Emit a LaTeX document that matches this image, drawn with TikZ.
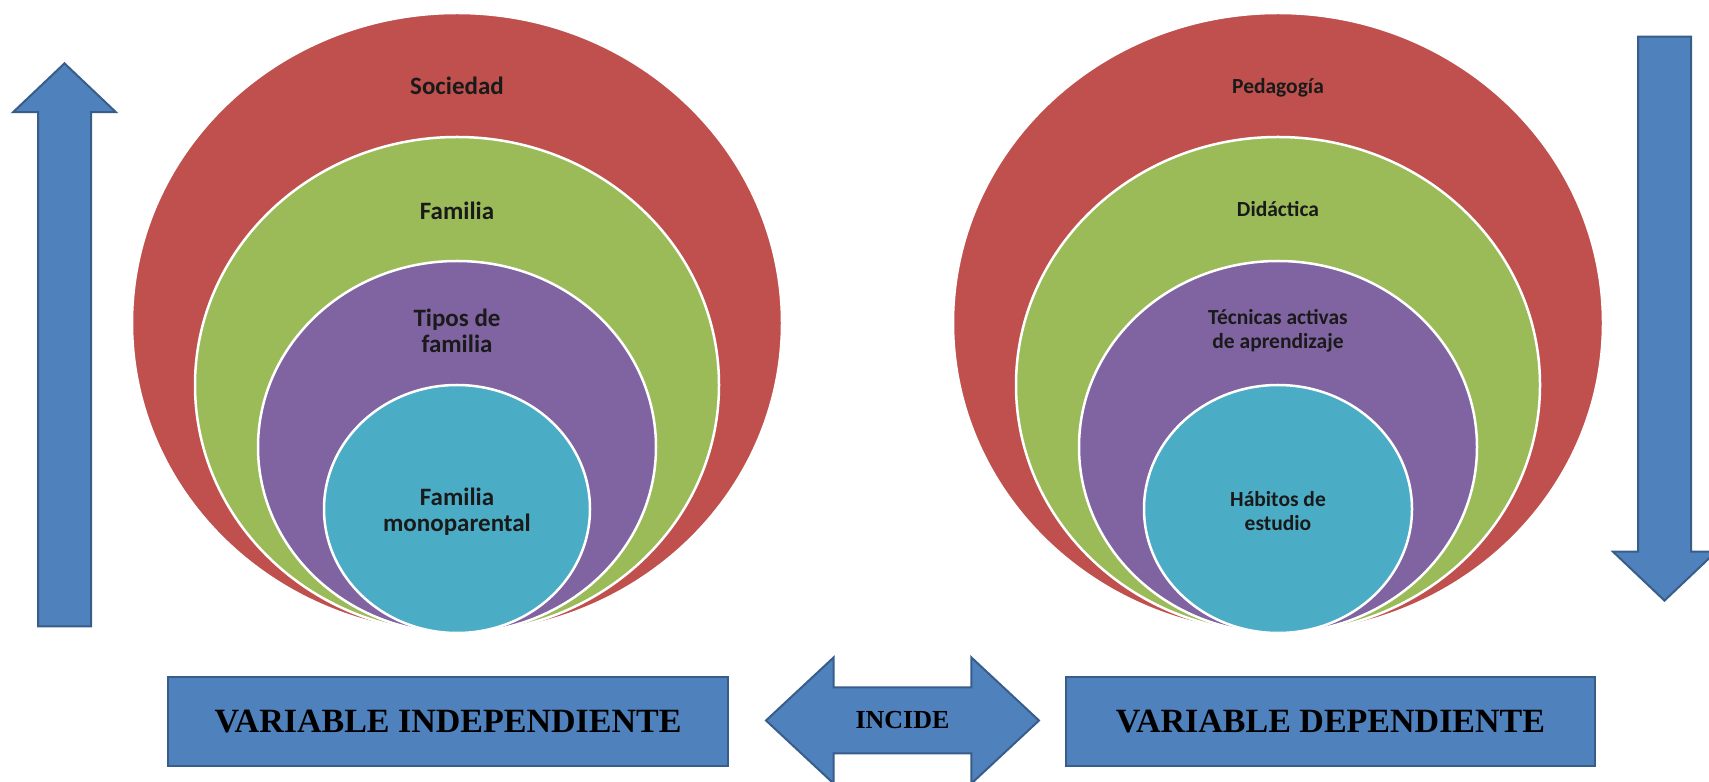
\documentclass[tikz,border=0pt]{standalone}
\usepackage{fontspec}
\setmainfont{Liberation Serif}
\newfontfamily\calibri{Carlito}
\usetikzlibrary{shapes.geometric,shapes.arrows}

\definecolor{blockblue}{HTML}{4F81BD}
\definecolor{blockedge}{HTML}{385D8A}
\definecolor{ringred}{HTML}{C0504D}
\definecolor{ringgreen}{HTML}{9BBB59}
\definecolor{ringviolet}{HTML}{8064A2}
\definecolor{ringcyan}{HTML}{4BACC6}
\definecolor{ringtext}{HTML}{1A1A1A}

\tikzset{
  ring/.style={ellipse, draw=white, line width=2.5pt, inner sep=0},
  ringlabel/.style={align=center, text=ringtext, font=\calibri\bfseries\fontsize{25}{26}\selectfont},
  varbox/.style={draw=blockedge, line width=2pt, fill=blockblue, minimum height=89pt,
    font=\bfseries\fontsize{34}{36}\selectfont},
  bigarrow/.style={single arrow, draw=blockedge, line width=2pt, fill=blockblue, anchor=tip,
    inner xsep=0, inner ysep=25.5pt, single arrow head extend=25pt, single arrow tip angle=93},
}

\begin{document}
\begin{tikzpicture}[x=1pt,y=1pt]
  \useasboundingbox (0,0) rectangle (1709,782);

  % rings of the independent variable
  \foreach \c/\rx/\ry/\txt/\ty [count=\i] in {ringred/325/310/Sociedad/696,
      ringgreen/262/248/Familia/571, ringviolet/199/186/{Tipos de\\familia}/451,
      ringcyan/133/124/{Familia\\monoparental}/270} {
    \node[ring, fill=\c, minimum width=2*\rx pt, minimum height=2*\ry pt] (l\i) at (457, 149+\ry) {};
    \node[ringlabel] (lt\i) at (457, \ty) {\txt};
  }

  % rings of the dependent variable
  \foreach \c/\rx/\ry/\txt/\ty [count=\i] in {ringred/325/310/Pedagogía/694,
      ringgreen/262/248/Didáctica/573, ringviolet/199/186/{Técnicas activas\\de aprendizaje}/451,
      ringcyan/134/124/{Hábitos de\\estudio}/271} {
    \node[ring, fill=\c, minimum width=2*\rx pt, minimum height=2*\ry pt] (r\i) at (1278, 149+\ry) {};
    \node[ringlabel, font=\calibri\bfseries\fontsize{21.5}{24}\selectfont] (rt\i) at (1278, \ty) {\txt};
  }

  % side arrows
  \node[bigarrow, minimum height=563pt, rotate=90] (up) at (64.5, 720) {};
  \node[bigarrow, minimum height=564pt, rotate=-90] (down) at (1664.5, 180) {};

  % variable boxes
  \node[varbox, minimum width=560pt] (indep) at (448, 60.5) {VARIABLE INDEPENDIENTE};
  \node[varbox, minimum width=529pt] (dep) at (1330.5, 60.5) {VARIABLE DEPENDIENTE};
  \node[double arrow, draw=blockedge, line width=2pt, fill=blockblue, inner xsep=0, inner ysep=23.5pt,
    text height=17pt, text depth=0pt, minimum height=273pt, double arrow head extend=30pt,
    double arrow tip angle=86, font=\bfseries\fontsize{26}{28}\selectfont] (incide) at (902.5, 61.5) {INCIDE};
\end{tikzpicture}
\end{document}
